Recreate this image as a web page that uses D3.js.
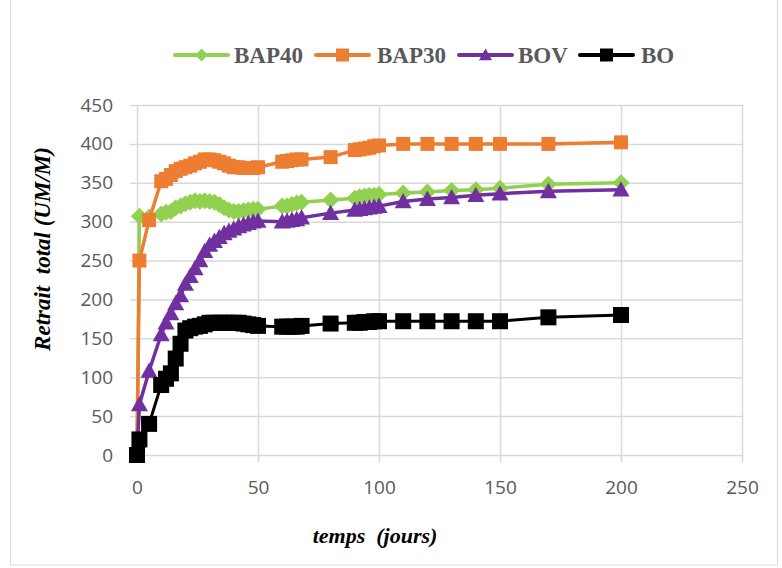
<!DOCTYPE html>
<html>
<head>
<meta charset="utf-8">
<script src="https://cdn.jsdelivr.net/npm/d3@7"></script>
<style>
  html, body { margin: 0; padding: 0; background: #fff; }
  svg { display: block; }
</style>
</head>
<body>
<svg id="chart" width="782" height="568"></svg>
<script>
// Sampling days (jours)
const days = [0, 1, 5, 10, 12, 14, 16, 18, 20, 22, 24, 26, 28, 30, 32, 34, 36, 38, 40, 42, 44, 46, 48, 50,
              60, 62, 64, 66, 68, 80, 90, 92, 94, 96, 98, 100, 110, 120, 130, 140, 150, 170, 200];

// Retrait total (UM/M) for each mix
const bap40 = [0, 307, 306, 310, 312, 313, 318, 320, 323, 325, 327, 326, 327, 326, 325, 322, 318, 315, 313, 313, 314, 315, 316, 316,
               320, 320, 322, 324, 325, 328, 330, 332, 333, 334, 334, 335, 337, 338, 340, 341, 343, 348, 350];
const bap30 = [0, 250, 302, 352, 355, 360, 365, 368, 370, 372, 375, 377, 380, 380, 379, 377, 375, 372, 370, 370, 369, 369, 369, 370,
               377, 378, 379, 380, 380, 383, 392, 393, 394, 395, 397, 398, 400, 400, 400, 400, 400, 400, 402];
const bov   = [0, 65, 108, 155, 170, 182, 195, 205, 220, 230, 240, 250, 262, 270, 275, 280, 285, 288, 291, 294, 296, 298, 300, 301,
               300, 301, 302, 303, 305, 311, 315, 316, 317, 318, 319, 320, 326, 329, 331, 334, 336, 339, 341];
const bo    = [0, 20, 40, 90, 98, 105, 124, 143, 160, 163, 165, 166, 168, 170, 170, 170, 170, 170, 170, 170, 169, 168, 167, 166,
               165, 165, 165, 165, 166, 169, 170, 170, 171, 171, 172, 172, 172, 172, 172, 172, 172, 177, 180];

const seriesNames = ["BAP40", "BAP30", "BOV", "BO"];
const xTicks = [0, 50, 100, 150, 200, 250];
const yTicks = [0, 50, 100, 150, 200, 250, 300, 350, 400, 450];

const series = [
  { name: seriesNames[0], values: bap40, color: "#92d050", shape: "diamond", size: 17, lw: 3.5 },
  { name: seriesNames[1], values: bap30, color: "#ed7d31", shape: "square", size: 14, lw: 3.5 },
  { name: seriesNames[2], values: bov,   color: "#7030a0", shape: "triangle", size: 17, lw: 3.5 },
  { name: seriesNames[3], values: bo,    color: "#000000", shape: "square", size: 16, lw: 3 }
];

const svg = d3.select("#chart");
const plot = { left: 137, right: 742, top: 105, bottom: 455 };

const x = d3.scaleLinear().domain([0, 250]).range([plot.left, plot.right]);
const y = d3.scaleLinear().domain([0, 450]).range([plot.bottom, plot.top]);

// chart frame
svg.append("rect")
  .attr("x", 10.5).attr("y", -1).attr("width", 767).attr("height", 566)
  .attr("fill", "#fff").attr("stroke", "#d9d9d9").attr("stroke-width", 1);

const gridColor = "#d9d9d9";
const tickFont = "'Open Sans', 'Liberation Sans', sans-serif";

// horizontal gridlines + y axis labels
const yAxis = d3.axisLeft(y).tickValues(yTicks).tickSize(-(plot.right - plot.left)).tickPadding(24);
const gy = svg.append("g").attr("transform", `translate(${plot.left},0)`).call(yAxis);
gy.select(".domain").remove();
gy.selectAll(".tick line").attr("stroke", gridColor).attr("stroke-width", 1.5).attr("x1", -7);
gy.selectAll(".tick text").attr("fill", "#595959").attr("font-family", tickFont).attr("font-size", 19);

// vertical gridlines + x axis labels
const xAxis = d3.axisBottom(x).tickValues(xTicks).tickSize(-(plot.bottom - plot.top)).tickPadding(26);
const gx = svg.append("g").attr("transform", `translate(0,${plot.bottom})`).call(xAxis);
gx.select(".domain").remove();
gx.selectAll(".tick line").attr("stroke", gridColor).attr("stroke-width", 1.5).attr("y1", 7);
gx.selectAll(".tick text").attr("fill", "#595959").attr("font-family", tickFont).attr("font-size", 19);

// marker path generator
function markerPath(shape, s) {
  const h = s / 2;
  if (shape === "square") return `M${-h},${-h}H${h}V${h}H${-h}Z`;
  if (shape === "diamond") return `M0,${-h}L${h},0L0,${h}L${-h},0Z`;
  if (shape === "triangle") return `M0,${-h}L${h},${h * 0.8}L${-h},${h * 0.8}Z`;
  return "";
}

const line = d3.line().x(d => x(d[0])).y(d => y(d[1]));

series.forEach(s => {
  const pts = days.map((d, i) => [d, s.values[i]]);
  const g = svg.append("g");
  g.append("path").datum(pts)
    .attr("d", line).attr("fill", "none")
    .attr("stroke", s.color).attr("stroke-width", s.lw).attr("stroke-linejoin", "round");
  g.selectAll("path.m").data(pts).enter().append("path")
    .attr("class", "m")
    .attr("transform", d => `translate(${x(d[0])},${y(d[1])})`)
    .attr("d", markerPath(s.shape, s.size))
    .attr("fill", s.color);
});

// legend
const legendItems = [
  { lx: 175, tx: 234 },
  { lx: 316, tx: 377 },
  { lx: 459, tx: 518 },
  { lx: 580, tx: 641 }
];
const ly = 55;
series.forEach((s, i) => {
  const it = legendItems[i];
  const g = svg.append("g");
  g.append("line").attr("x1", it.lx).attr("x2", it.lx + 53).attr("y1", ly).attr("y2", ly)
    .attr("stroke", s.color).attr("stroke-width", 4).attr("stroke-linecap", "round");
  g.append("path").attr("transform", `translate(${it.lx + 26.5},${ly})`)
    .attr("d", markerPath(s.shape, 13)).attr("fill", s.color);
  g.append("text").attr("x", it.tx).attr("y", ly + 8)
    .attr("font-family", "'Liberation Serif', 'Times New Roman', serif")
    .attr("font-weight", "bold").attr("font-size", 23).attr("fill", "#595959")
    .text(s.name);
});

// axis titles
svg.append("text")
  .attr("x", 375).attr("y", 543).attr("text-anchor", "middle")
  .attr("font-family", "'Liberation Serif', 'Times New Roman', serif")
  .attr("font-weight", "bold").attr("font-style", "italic").attr("font-size", 22)
  .attr("fill", "#000").style("white-space", "pre")
  .text("temps  (jours)");

svg.append("text")
  .attr("transform", "translate(50,249) rotate(-90)").attr("text-anchor", "middle")
  .attr("font-family", "'Liberation Serif', 'Times New Roman', serif")
  .attr("font-weight", "bold").attr("font-style", "italic").attr("font-size", 23)
  .attr("fill", "#000").style("white-space", "pre")
  .text("Retrait  total (UM/M)");
</script>
</body>
</html>
